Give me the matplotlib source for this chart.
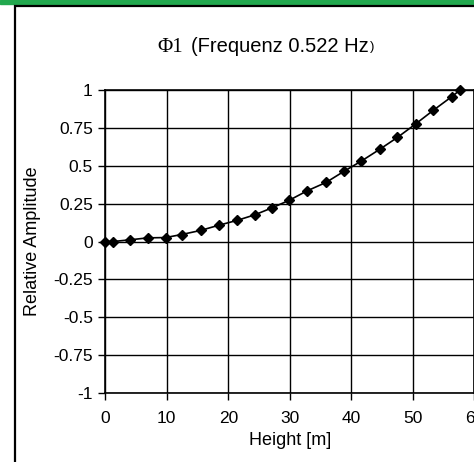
import matplotlib.pyplot as plt
from matplotlib.patches import Rectangle

# Daten (Hoehe in m, relative Amplitude)
height = [0, 1.3, 4.0, 6.9, 9.8, 12.4, 15.5, 18.5, 21.4, 24.3, 27.1, 29.9,
          32.8, 35.9, 38.8, 41.6, 44.6, 47.5, 50.5, 53.3, 56.3, 57.7]
amp = [0, 0.0, 0.011, 0.024, 0.026, 0.046, 0.073, 0.108, 0.139, 0.176, 0.222, 0.272,
       0.334, 0.39, 0.463, 0.53, 0.608, 0.687, 0.777, 0.865, 0.955, 1.0]
xticks = [0, 10, 20, 30, 40, 50, 60]
yticks = [-1, -0.75, -0.5, -0.25, 0, 0.25, 0.5, 0.75, 1]
ylabels = ['-1', '-0.75', '-0.5', '-0.25', '0', '0.25', '0.5', '0.75', '1']

plt.rcParams['font.family'] = ['Liberation Sans', 'DejaVu Sans']

W, H = 474, 462
fig = plt.figure(figsize=(W / 100, H / 100), dpi=100)

# gruener Balken oben + Rahmen
fig.patches.append(Rectangle((0, 1 - 3.5 / H), 1, 3.5 / H, transform=fig.transFigure,
                             color='#22a84e', zorder=0))
fig.patches.append(Rectangle((15 / W, -0.05), 1.1, 1 - 6 / H + 0.05, transform=fig.transFigure,
                             fill=False, edgecolor='black', linewidth=1.6, zorder=1))

x0, x1 = 105.3, 474.3
y0, y1 = 90, 393
ax = fig.add_axes([x0 / W, 1 - y1 / H, (x1 - x0) / W, (y1 - y0) / H])
ax.set_facecolor('white')

ax.plot(height, amp, color='black', linewidth=1.2, marker='D', markersize=5.5,
        clip_on=False, zorder=3)

ax.set_xlim(0, 60)
ax.set_ylim(-1, 1)
ax.set_xticks(xticks)
ax.set_yticks(yticks)
ax.set_yticklabels(ylabels)
ax.grid(True, color='black', linewidth=1.0)
ax.set_axisbelow(True)
for s in ax.spines.values():
    s.set_linewidth(1.2)
ax.tick_params(axis='both', direction='out', length=5, width=1, labelsize=12.5, pad=4)
ax.tick_params(axis='x', pad=8)

ax.set_xlabel('Height [m]', fontsize=13, labelpad=4)
ax.set_ylabel('Relative Amplitude', fontsize=13, labelpad=9)

# Titel: Phi in Serifenschrift, Rest in Arial-aehnlich
fig.text(157 / W, 1 - 47 / H, '\u03a61', family=['Liberation Serif', 'DejaVu Serif'],
         fontsize=15, ha='left', va='center')
fig.text(191 / W, 1 - 46 / H, '(Frequenz 0.522 Hz', fontsize=14.5, ha='left', va='center')
fig.text(370 / W, 1 - 47 / H, ')', fontsize=9.5, ha='left', va='center')

fig.savefig('out.png', dpi=100)
